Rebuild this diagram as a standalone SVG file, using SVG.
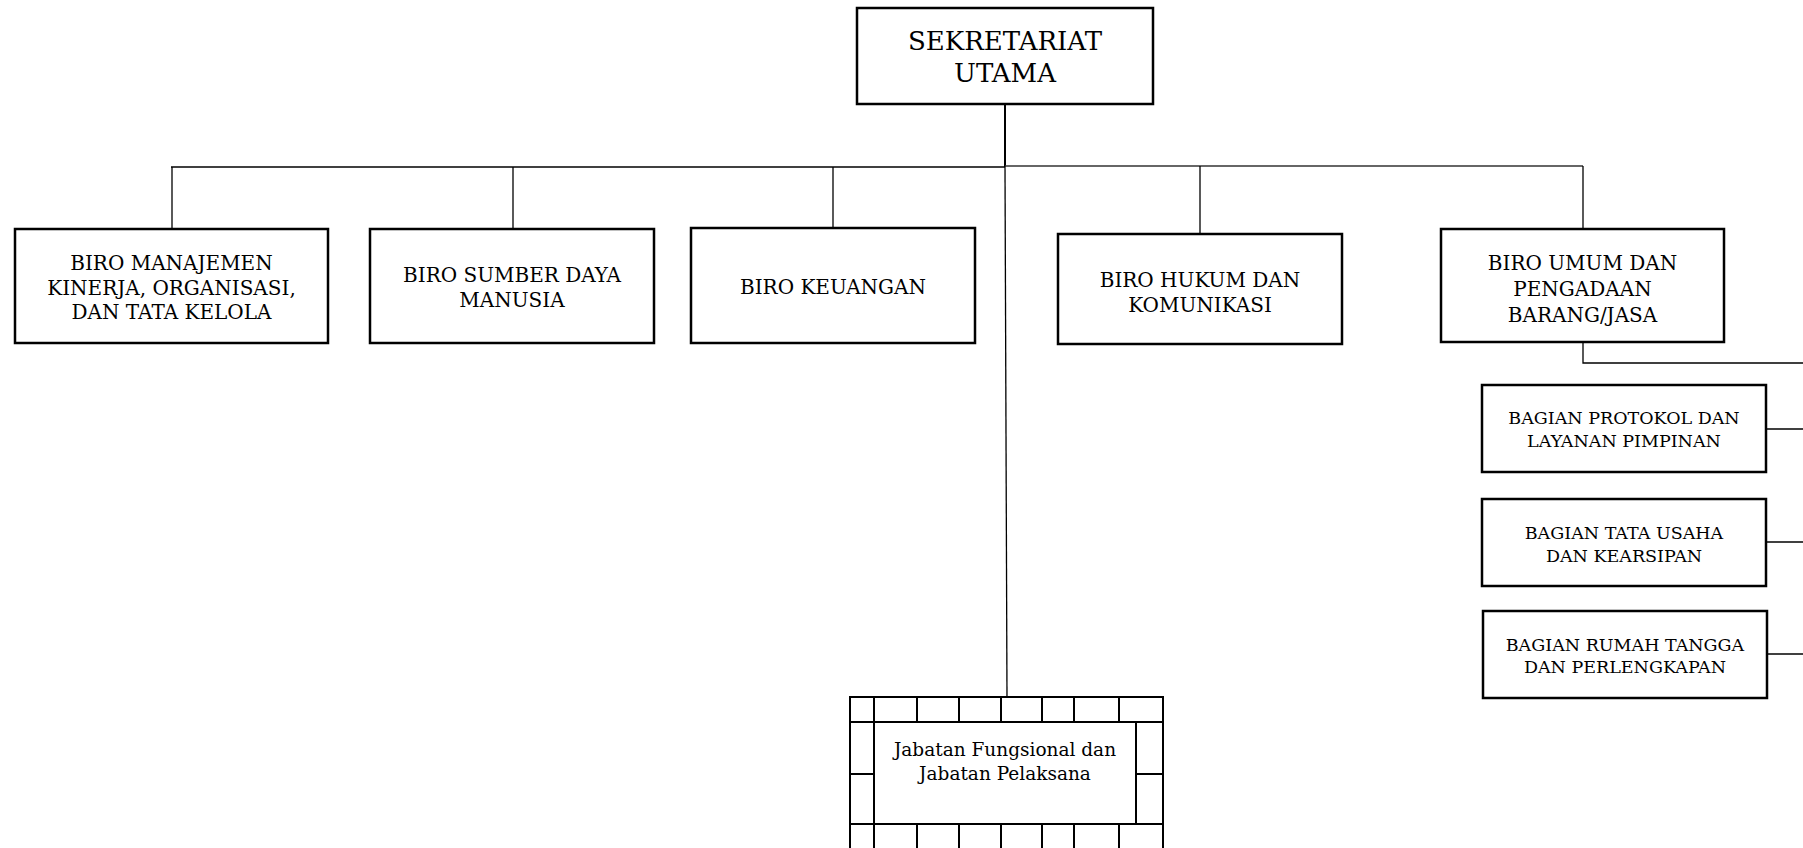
<svg xmlns="http://www.w3.org/2000/svg" width="1803" height="848" viewBox="0 0 1803 848">
<style>
.box{fill:#fff;stroke:#000;stroke-width:2.5}
.t{font-family:"DejaVu Serif","Liberation Serif",serif;fill:#000;text-anchor:middle}
.big{font-size:26px}
.biro{font-size:20px}
.bag{font-size:17.5px}
.jab{font-size:18.5px}
.c{stroke:#000;stroke-width:1.3;fill:none}
.g{stroke:#000;stroke-width:2;fill:none}
</style>
<rect width="1803" height="848" fill="#fff"/>
<g id="connectors">
<line class="c" x1="1005" y1="104" x2="1005" y2="167" style="stroke-width:2"/>
<line class="c" x1="171" y1="167" x2="1005" y2="167"/>
<line class="c" x1="1005" y1="166" x2="1583" y2="166" style="stroke:#333"/>
<line class="c" x1="172" y1="167" x2="172" y2="229"/>
<line class="c" x1="513" y1="167" x2="513" y2="229"/>
<line class="c" x1="833" y1="167" x2="833" y2="228"/>
<line class="c" x1="1200" y1="166" x2="1200" y2="234"/>
<line class="c" x1="1583" y1="166" x2="1583" y2="229"/>
<line class="c" x1="1005" y1="167" x2="1007" y2="697"/>
<polyline class="c" points="1583,342 1583,363 1803,363"/>
<line class="c" x1="1766" y1="429" x2="1803" y2="429"/>
<line class="c" x1="1766" y1="542" x2="1803" y2="542"/>
<line class="c" x1="1767" y1="654" x2="1803" y2="654"/>
</g>
<g id="sekretariat-utama">
<rect class="box" x="857" y="8" width="296" height="96"/>
<text class="t big" x="1005" y="50">SEKRETARIAT</text>
<text class="t big" x="1005" y="82">UTAMA</text>
</g>
<g id="biro-manajemen">
<rect class="box" x="15" y="229" width="313" height="114"/>
<text class="t biro" x="171.5" y="270">BIRO MANAJEMEN</text>
<text class="t biro" x="171.5" y="295">KINERJA, ORGANISASI,</text>
<text class="t biro" x="171.5" y="319">DAN TATA KELOLA</text>
</g>
<g id="biro-sdm">
<rect class="box" x="370" y="229" width="284" height="114"/>
<text class="t biro" x="512" y="282">BIRO SUMBER DAYA</text>
<text class="t biro" x="512" y="307">MANUSIA</text>
</g>
<g id="biro-keuangan">
<rect class="box" x="691" y="228" width="284" height="115"/>
<text class="t biro" x="833" y="294">BIRO KEUANGAN</text>
</g>
<g id="biro-hukum">
<rect class="box" x="1058" y="234" width="284" height="110"/>
<text class="t biro" x="1200" y="287">BIRO HUKUM DAN</text>
<text class="t biro" x="1200" y="312">KOMUNIKASI</text>
</g>
<g id="biro-umum">
<rect class="box" x="1441" y="229" width="283" height="113"/>
<text class="t biro" x="1582.5" y="270">BIRO UMUM DAN</text>
<text class="t biro" x="1582.5" y="296">PENGADAAN</text>
<text class="t biro" x="1582.5" y="322">BARANG/JASA</text>
</g>
<g id="bagian-protokol">
<rect class="box" x="1482" y="385" width="284" height="87"/>
<text class="t bag" x="1624" y="424">BAGIAN PROTOKOL DAN</text>
<text class="t bag" x="1624" y="447">LAYANAN PIMPINAN</text>
</g>
<g id="bagian-tata-usaha">
<rect class="box" x="1482" y="499" width="284" height="87"/>
<text class="t bag" x="1624" y="539">BAGIAN TATA USAHA</text>
<text class="t bag" x="1624" y="562">DAN KEARSIPAN</text>
</g>
<g id="bagian-rumah-tangga">
<rect class="box" x="1483" y="611" width="284" height="87"/>
<text class="t bag" x="1625" y="651">BAGIAN RUMAH TANGGA</text>
<text class="t bag" x="1625" y="673">DAN PERLENGKAPAN</text>
</g>
<g id="jabatan-fungsional">
<rect class="g" x="850" y="697" width="313" height="153" style="fill:#fff"/>
<line class="g" x1="850" y1="722" x2="1163" y2="722"/>
<line class="g" x1="850" y1="824" x2="1163" y2="824"/>
<line class="g" x1="874" y1="697" x2="874" y2="850"/>
<line class="g" x1="1136" y1="722" x2="1136" y2="824"/>
<line class="g" x1="850" y1="774" x2="874" y2="774"/>
<line class="g" x1="1136" y1="774" x2="1163" y2="774"/>
<path class="g" d="M917 697V722M959 697V722M1001 697V722M1042 697V722M1074 697V722M1119 697V722M917 824V850M959 824V850M1001 824V850M1042 824V850M1074 824V850M1119 824V850"/>
<text class="t jab" x="1005" y="756">Jabatan Fungsional dan</text>
<text class="t jab" x="1005" y="780">Jabatan Pelaksana</text>
</g>
</svg>
